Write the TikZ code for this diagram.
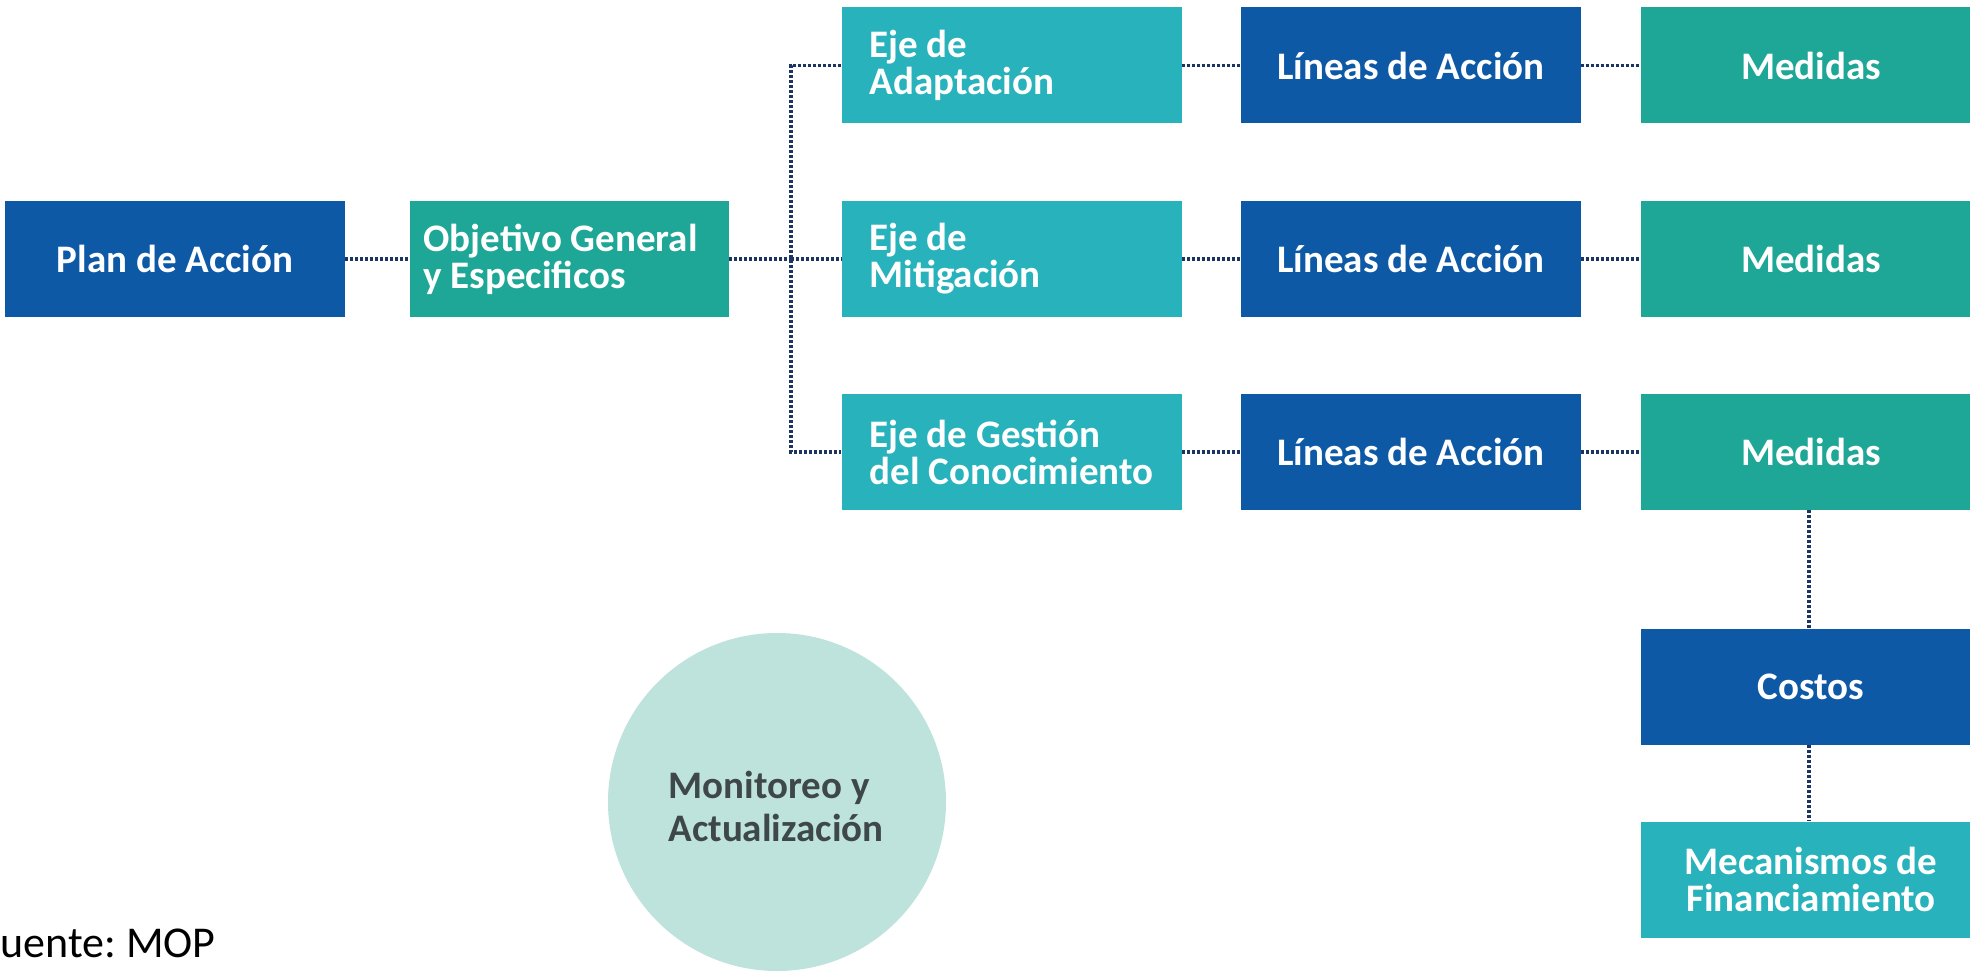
\documentclass[tikz,border=0pt]{standalone}
\usepackage{fontspec}
\setmainfont{Carlito}
\definecolor{cdark}{RGB}{14,89,166}
\definecolor{cgreen}{RGB}{30,166,150}
\definecolor{ccyan}{RGB}{40,178,188}
\definecolor{ccircle}{RGB}{190,227,221}
\definecolor{clink}{RGB}{28,52,100}
\definecolor{ctextgray}{RGB}{62,72,75}
\tikzset{
  box/.style={rectangle, inner sep=0pt, minimum width=170pt, minimum height=58pt,
    text=white, font=\bfseries\fontsize{19.5}{18.5}\selectfont, align=center},
  dkbox/.style={box, fill=cdark},
  grbox/.style={box, fill=cgreen},
  cybox/.style={box, fill=ccyan},
  ejebox/.style={cybox, text width=142pt, inner xsep=14pt, align=flush left},
  link/.style={draw=clink, line width=1.6pt, dash pattern=on 1.5pt off 1pt},
}
\begin{document}
\frenchspacing
\begin{tikzpicture}[x=0.5pt,y=-0.5pt]
\clip (0,0) rectangle (1970,974);
\fill[white] (0,0) rectangle (1970,974);
% first column
\node[dkbox] (plan) at (175,259) {Plan de Acción};
\node[grbox, minimum width=159.5pt, text width=146pt, inner xsep=6.75pt, align=flush left] (obj) at (569.5,259) {Objetivo General\\y Especificos};
% ejes
\node[ejebox] (eje1) at (1011.5,65.5) {Eje de\\Adaptación};
\node[ejebox] (eje2) at (1011.5,259) {Eje de\\Mitigación};
\node[ejebox] (eje3) at (1011.5,452) {Eje de Gestión\\del Conocimiento};
% lineas
\node[dkbox] (lin1) at (1411,65.5) {Líneas de Acción};
\node[dkbox] (lin2) at (1411,259) {Líneas de Acción};
\node[dkbox] (lin3) at (1411,452) {Líneas de Acción};
% medidas
\node[grbox] (med1) at (1811,65.5) {Medidas};
\node[grbox] (med2) at (1811,259) {Medidas};
\node[grbox] (med3) at (1811,452) {Medidas};
\node[dkbox] (cos) at (1811,686.5) {Costos};
\node[cybox] (mec) at (1811,879.5) {Mecanismos de\\Financiamiento};
% circle
\node[circle, fill=ccircle, minimum size=169pt, inner sep=0pt] (mon) at (777,802) {};
\node[text=ctextgray, font=\bfseries\fontsize{19.5}{21.5}\selectfont, align=left] (montxt) at (776,806) {Monitoreo y\\Actualización};
% source
\node[anchor=base west, inner sep=0pt, font=\fontsize{22}{24}\selectfont] (src) at (0,957) {uente: MOP};
% connectors
\coordinate (J) at (791,259);
\draw[link] (plan.east) -- (obj.west);
\draw[link] (obj.east) -- (J);
\draw[link] (eje1.west) -| (J) |- (eje3.west);
\draw[link] (J) -- (eje2.west);
\foreach \i in {1,2,3}{
  \draw[link] (eje\i.east) -- (lin\i.west);
  \draw[link] (lin\i.east) -- (med\i.west);
}
\draw[link] ([xshift=-1pt]med3.south) -- ([xshift=-1pt]cos.north);
\draw[link] ([xshift=-1pt]cos.south) -- ([xshift=-1pt]mec.north);
\end{tikzpicture}
\end{document}
